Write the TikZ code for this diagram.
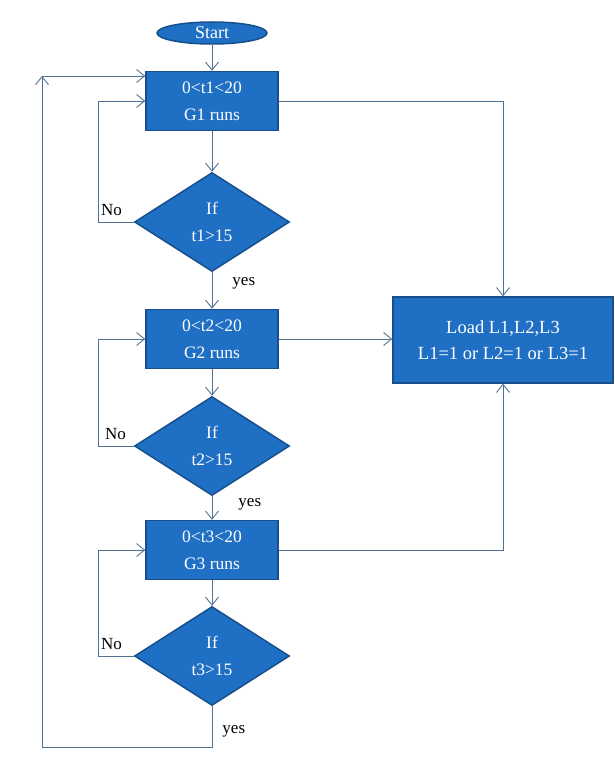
\documentclass[tikz,border=0pt]{standalone}
\usepackage{fontspec}
\setmainfont{Liberation Serif}
\usetikzlibrary{arrows.meta,shapes.geometric}
\definecolor{boxblue}{HTML}{1F6FC4}
\definecolor{edgeblue}{HTML}{174F8C}
\definecolor{linkgray}{HTML}{4F7193}

\begin{document}
\begin{tikzpicture}[x=1pt, y=-1pt, >={Straight Barb[length=8pt,width=13pt]},
  box/.style={draw=edgeblue, line width=1.5pt, fill=boxblue, text=white, align=center,
    minimum width=132pt, minimum height=59pt, font=\fontsize{17.5}{27}\selectfont},
  test/.style={diamond, draw=edgeblue, line width=1.5pt, fill=boxblue, text=white, align=center,
    minimum width=155pt, minimum height=99pt, inner sep=0pt, font=\fontsize{17.5}{27}\selectfont},
  startnode/.style={ellipse, draw=edgeblue, line width=1.5pt, fill=boxblue, text=white,
    minimum width=110pt, minimum height=22pt, inner sep=0pt, font=\fontsize{18}{18}\selectfont},
  loadbox/.style={box, minimum width=220pt, minimum height=86pt, font=\fontsize{18.5}{26}\selectfont},
  link/.style={draw=linkgray, line width=0.9pt},
  tag/.style={font=\fontsize{17}{18}\selectfont, inner sep=2pt}]

\useasboundingbox (0,0) rectangle (615,773);

% Generators and tests
\node[startnode] (start) at (212,33) {Start};
\node[box] (g1) at (212,101) {0<t1<20\\G1 runs};
\node[test] (d1) at (212,222) {If\\t1>15};
\node[box] (g2) at (212,339) {0<t2<20\\G2 runs};
\node[test] (d2) at (212,446) {If\\t2>15};
\node[box] (g3) at (212,550) {0<t3<20\\G3 runs};
\node[test] (d3) at (212,656) {If\\t3>15};

% Load
\node[loadbox] (load) at (503,340) {Load L1,L2,L3\\L1=1 or L2=1 or L3=1};

% Main flow
\draw[link,->] (start) -- (g1);
\draw[link,->] (g1) -- (d1);
\draw[link,->] (d1) -- node[tag, pos=0.3, anchor=west, xshift=18pt] {yes} (g2);
\draw[link,->] (g2) -- (d2);
\draw[link,->] (d2) -- node[tag, pos=0.35, anchor=west, xshift=24pt] {yes} (g3);
\draw[link,->] (g3) -- (d3);

% No loops
\draw[link,->] (d1.west) -- ++(-35,0) node[tag, anchor=south west, yshift=4pt] {No} |- (g1.west);
\draw[link,->] (d2.west) -- ++(-35,0) node[tag, anchor=south west, xshift=4pt, yshift=4pt] {No} |- (g2.west);
\draw[link,->] (d3.west) -- ++(-35,0) node[tag, anchor=south west, yshift=4pt] {No} |- (g3.west);

% Outer loop back to G1
\coordinate (turn) at (42,76);
\draw[link,->] (d3.south) -- node[tag, pos=0.6, anchor=west, xshift=8pt] {yes} ++(0,41) -| (turn);
\draw[link,->] (turn) -- (g1.west |- turn);

% Links to load
\draw[link,->] (g1.east) -| (load.north);
\draw[link,->] (g2.east) -- (load.west |- g2.east);
\draw[link,->] (g3.east) -| (load.south);

\end{tikzpicture}
\end{document}
